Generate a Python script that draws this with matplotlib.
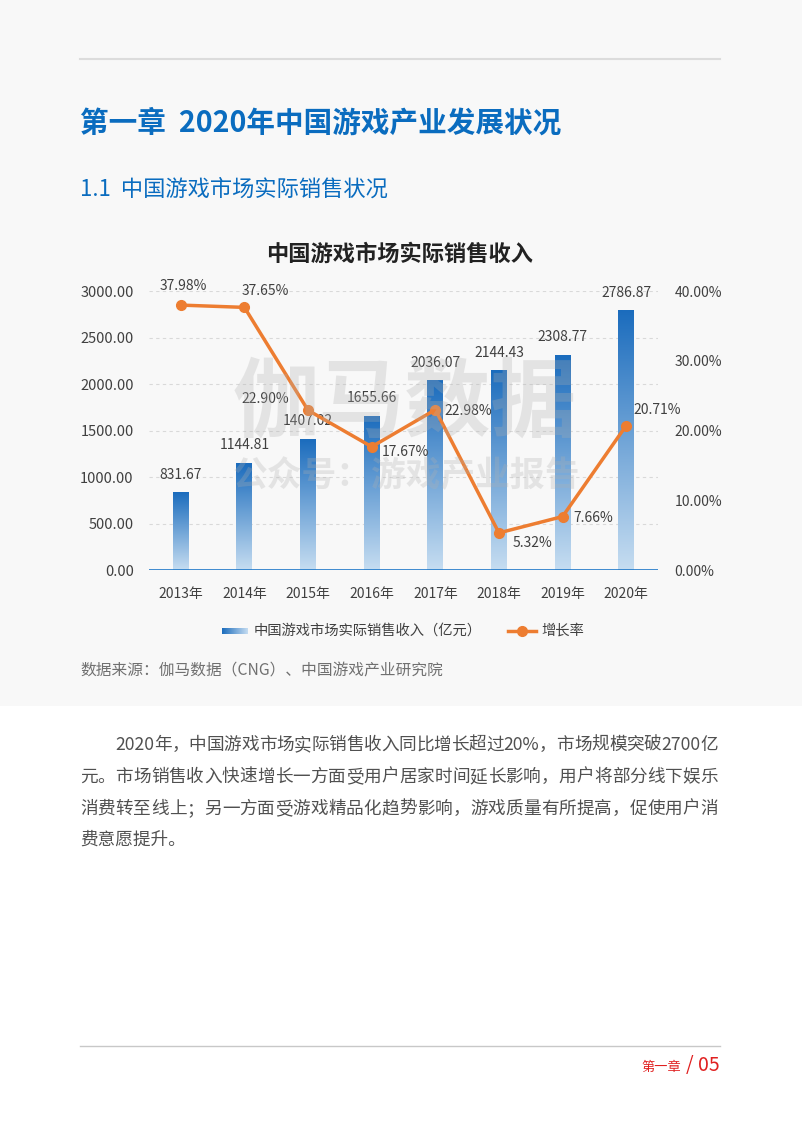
import matplotlib.pyplot as plt
import numpy as np
from matplotlib.lines import Line2D
from matplotlib.colors import LinearSegmentedColormap
import re

plt.rcParams['font.family'] = ['Noto Sans CJK SC', 'DejaVu Sans']

# ---- dados ----
anos = ['2013年', '2014年', '2015年', '2016年', '2017年', '2018年', '2019年', '2020年']
receita = [831.67, 1144.81, 1407.02, 1655.66, 2036.07, 2144.43, 2308.77, 2786.87]
crescimento = [37.98, 37.65, 22.90, 17.67, 22.98, 5.32, 7.66, 20.71]
ticks_esq = [0, 500, 1000, 1500, 2000, 2500, 3000]
ticks_dir = [0, 10, 20, 30, 40]

# deslocamento dos rótulos da linha (pontos)
off_linha = [(2, 14), (15, 12), (-31, 8), (24, -4), (24, -1), (24, -7), (22, -1), (22, 11)]

W, H = 802, 1136
fig = plt.figure(figsize=(W / 100, H / 100), dpi=100)
fig.patch.set_facecolor('white')

def fx(x):
    return x / W

def fy(y):
    return 1 - y / H

# fundo cinza da parte de cima
fig.patches.append(plt.Rectangle((0, fy(706)), 1, 1 - fy(706), transform=fig.transFigure,
                                 facecolor='#f8f8f8', edgecolor='none', zorder=-10))

azul = '#0a6cbf'
laranja = '#ed7d31'
cinza = '#404040'

# cabeçalho
fig.add_artist(Line2D([fx(80), fx(720)], [fy(59), fy(59)], color='#dcdcdc', lw=1.5))
fig.text(fx(80), fy(123), '第一章  2020年中国游戏产业发展状况', fontsize=20.6, fontweight='bold',
         color=azul, va='center', ha='left')
fig.text(fx(80), fy(189), '1.1  中国游戏市场实际销售状况', fontsize=16, color=azul,
         va='center', ha='left')
fig.text(fx(400), fy(254), '中国游戏市场实际销售收入', fontsize=16, fontweight='bold',
         color='#222222', va='center', ha='center')

#================ gráfico ================#
ax = fig.add_axes([fx(149), fy(570), fx(509), 279 / H])
ax.set_facecolor('none')
x = np.arange(len(anos))

cmap = LinearSegmentedColormap.from_list('grad', ['#c6ddf1', '#1b6cbd'])
grad = np.linspace(0, 1, 256).reshape(-1, 1)
larg = 0.25
for i, v in enumerate(receita):
    ax.imshow(grad, cmap=cmap, aspect='auto', origin='lower',
              extent=[x[i] - larg / 2, x[i] + larg / 2, 0, v], zorder=2)
    ax.annotate(f'{v:.2f}', (x[i], v), xytext=(0, 13), textcoords='offset points',
                ha='center', va='center', fontsize=10, color=cinza, zorder=5)
ax.set_xlim(-0.5, len(anos) - 0.5)
ax.set_ylim(0, 3000)

for t in ticks_esq[1:]:
    ax.axhline(t, color='#d9d9d9', lw=0.8, ls=(0, (3, 3)), zorder=0)
ax.axhline(0, color='#1f78c8', lw=1.2, zorder=3)

ax.set_yticks(ticks_esq)
ax.set_yticklabels([f'{t:.2f}' for t in ticks_esq])
ax.set_xticks(x)
ax.set_xticklabels(anos)
ax.tick_params(length=0, labelsize=10, colors=cinza)
ax.tick_params(axis='x', pad=12)
ax.tick_params(axis='y', pad=11, labelsize=10.5)
for s in ax.spines.values():
    s.set_visible(False)

ax2 = ax.twinx()
ax2.set_ylim(0, 40)
ax2.plot(x, crescimento, color=laranja, lw=2.5, marker='o', markersize=7, zorder=4)
for i, v in enumerate(crescimento):
    ax2.annotate(f'{v:.2f}%', (x[i], v), xytext=off_linha[i], textcoords='offset points',
                 ha='center', va='center', fontsize=10, color=cinza, zorder=5)
ax2.set_yticks(ticks_dir)
ax2.set_yticklabels([f'{t:.2f}%' for t in ticks_dir])
ax2.tick_params(length=0, labelsize=10, colors=cinza, pad=12)
for s in ax2.spines.values():
    s.set_visible(False)

# marca d'água
fig.text(fx(405), fy(404), '伽马数据', fontsize=62, fontweight='bold', color='#b0b0b0',
         alpha=0.28, ha='center', va='center', zorder=10)
fig.text(fx(406), fy(476), '公众号：游戏产业报告', fontsize=25, fontweight='bold',
         color='#b0b0b0', alpha=0.28, ha='center', va='center', zorder=10)

# legenda
lg = fig.add_axes([fx(222), fy(634), fx(26), 6 / H])
lg.imshow(np.linspace(1, 0, 256).reshape(1, -1), cmap=cmap, aspect='auto')
lg.axis('off')
fig.text(fx(254), fy(631), '中国游戏市场实际销售收入（亿元）', fontsize=10.3, color=cinza,
         ha='left', va='center')
fig.add_artist(Line2D([fx(508), fx(536)], [fy(631), fy(631)], color=laranja, lw=2.5))
fig.add_artist(Line2D([fx(522)], [fy(631)], color=laranja, marker='o', markersize=7))
fig.text(fx(541), fy(631), '增长率', fontsize=10.3, color=cinza, ha='left', va='center')

fig.text(fx(80), fy(671), '数据来源：伽马数据（CNG）、中国游戏产业研究院', fontsize=11.3,
         color='#707070', ha='left', va='center')

# texto justificado
linhas = [
    '2020年，中国游戏市场实际销售收入同比增长超过20%，市场规模突破2700亿',
    '元。市场销售收入快速增长一方面受用户居家时间延长影响，用户将部分线下娱乐',
    '消费转至线上；另一方面受游戏精品化趋势影响，游戏质量有所提高，促使用户消',
    '费意愿提升。',
]
ys = [745, 777, 809, 840]
estilo = dict(fontsize=12.7, color='#505050')
renderer = fig.canvas.get_renderer()

def justificar(txt, x0, x1, y):
    pedacos = re.findall(r'[ -~]+|.', txt)
    larguras = []
    for p in pedacos:
        t = fig.text(0, 0, p, **estilo)
        larguras.append(t.get_window_extent(renderer).width)
        t.remove()
    gap = (x1 - x0 - sum(larguras)) / (len(pedacos) - 1)
    pos = x0
    for p, w in zip(pedacos, larguras):
        fig.text(fx(pos), fy(y), p, ha='left', va='center', **estilo)
        pos += w + gap

for k, (txt, yy) in enumerate(zip(linhas, ys)):
    x0 = 115 if k == 0 else 80
    if k < 3:
        justificar(txt, x0, 718, yy)
    else:
        fig.text(fx(x0), fy(yy), txt, ha='left', va='center', **estilo)

# rodapé
fig.add_artist(Line2D([fx(80), fx(720)], [fy(1046), fy(1046)], color='#c8c8c8', lw=1))
fig.text(fx(681), fy(1067), '第一章', fontsize=9.5, color='#e02020', ha='right', va='center')
fig.text(fx(720), fy(1066), '/ 05', fontsize=14, color='#e02020', ha='right', va='center')

fig.savefig('out.png', dpi=100)
